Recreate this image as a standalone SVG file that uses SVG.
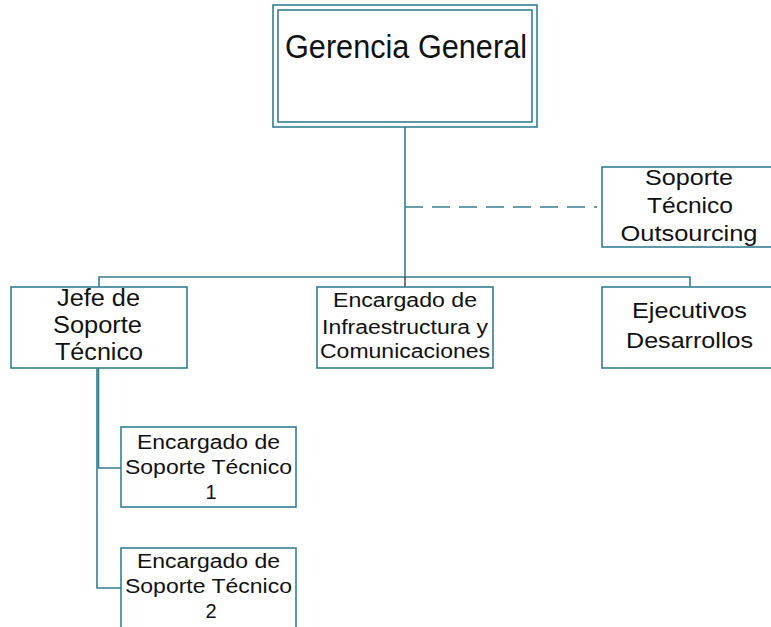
<svg xmlns="http://www.w3.org/2000/svg" width="771" height="627" viewBox="0 0 771 627">
<style>
.box{fill:#fff;stroke:#347F91;stroke-width:1.6}
.ln{fill:none;stroke:#347F91;stroke-width:1.6}
.t{font-family:"Liberation Sans",Arial,sans-serif;fill:#111;text-anchor:middle}
</style>
<rect width="771" height="627" fill="#fff"/>
<g id="connectors">
<path class="ln" d="M405,127 V277" stroke-width="2.6"/>
<path class="ln" d="M99,287 V277 H690 V287"/>
<path d="M405,277 V287" stroke="#222" stroke-width="1.2" fill="none"/>
<path class="ln" d="M405,207 H597" stroke-dasharray="18 9"/>
<path class="ln" d="M98.5,368 V468 H121" stroke-width="2.6"/>
<path class="ln" d="M97,368 V588 H121"/>
</g>
<g id="gerencia">
<rect class="box" x="273" y="5" width="264" height="122"/>
<rect class="box" x="278" y="10" width="254" height="112"/>
<text class="t" x="406" y="58" font-size="33" textLength="242" lengthAdjust="spacingAndGlyphs">Gerencia General</text>
</g>
<g id="outsourcing">
<rect class="box" x="602" y="167" width="176" height="80"/>
<text class="t" font-size="22" x="689" y="185" textLength="88" lengthAdjust="spacingAndGlyphs">Soporte</text>
<text class="t" font-size="22" x="690" y="213" textLength="86" lengthAdjust="spacingAndGlyphs">Técnico</text>
<text class="t" font-size="22" x="689" y="241" textLength="137" lengthAdjust="spacingAndGlyphs">Outsourcing</text>
</g>
<g id="jefe">
<rect class="box" x="11" y="287" width="176" height="81"/>
<text class="t" font-size="23" x="98.5" y="306" textLength="83" lengthAdjust="spacingAndGlyphs">Jefe de</text>
<text class="t" font-size="23" x="97.5" y="333" textLength="89" lengthAdjust="spacingAndGlyphs">Soporte</text>
<text class="t" font-size="23" x="99" y="360" textLength="88" lengthAdjust="spacingAndGlyphs">Técnico</text>
</g>
<g id="infra">
<rect class="box" x="317" y="287" width="176" height="81"/>
<text class="t" font-size="20" x="405" y="307" textLength="144" lengthAdjust="spacingAndGlyphs">Encargado de</text>
<text class="t" font-size="20" x="405" y="334" textLength="166" lengthAdjust="spacingAndGlyphs">Infraestructura y</text>
<text class="t" font-size="20" x="405" y="358" textLength="170" lengthAdjust="spacingAndGlyphs">Comunicaciones</text>
</g>
<g id="ejecutivos">
<rect class="box" x="602" y="287" width="176" height="81"/>
<text class="t" font-size="22" x="689.5" y="318" textLength="115" lengthAdjust="spacingAndGlyphs">Ejecutivos</text>
<text class="t" font-size="22" x="689.5" y="348" textLength="127" lengthAdjust="spacingAndGlyphs">Desarrollos</text>
</g>
<g id="encargado1">
<rect class="box" x="121" y="427" width="175" height="80"/>
<text class="t" font-size="20" x="208.5" y="449" textLength="143" lengthAdjust="spacingAndGlyphs">Encargado de</text>
<text class="t" font-size="20" x="208.5" y="474" textLength="167" lengthAdjust="spacingAndGlyphs">Soporte Técnico</text>
<text class="t" font-size="20" x="211" y="499">1</text>
</g>
<g id="encargado2">
<rect class="box" x="121" y="548" width="175" height="85"/>
<text class="t" font-size="20" x="208.5" y="568" textLength="143" lengthAdjust="spacingAndGlyphs">Encargado de</text>
<text class="t" font-size="20" x="208.5" y="593" textLength="167" lengthAdjust="spacingAndGlyphs">Soporte Técnico</text>
<text class="t" font-size="20" x="211" y="618">2</text>
</g>
</svg>
